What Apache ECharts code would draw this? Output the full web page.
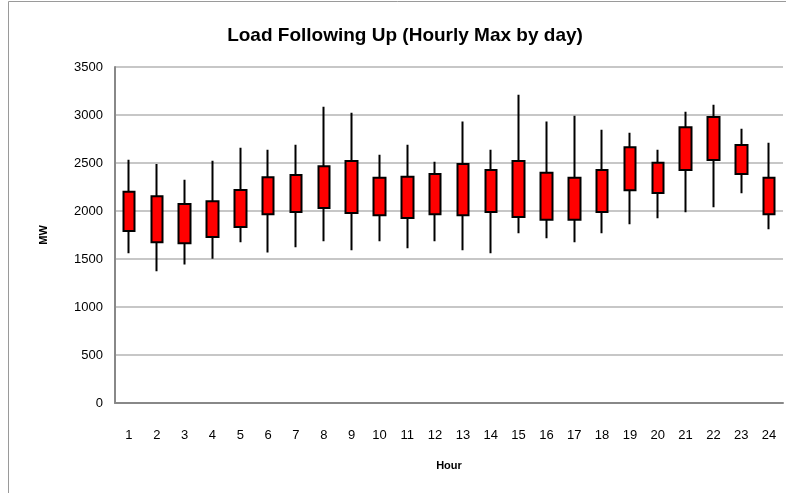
<!DOCTYPE html>
<html>
<head>
<meta charset="utf-8">
<script src="https://cdn.jsdelivr.net/npm/echarts@6/dist/echarts.min.js"></script>
<style>
  html, body { margin: 0; padding: 0; background: #fff; }
  #main { width: 786px; height: 493px; }
</style>
</head>
<body>
<div id="main"></div>
<script>
// hourly max by day (MW)
var hours = ['1','2','3','4','5','6','7','8','9','10','11','12','13','14','15','16','17','18','19','20','21','22','23','24'];
var boxLow  = [1792, 1674, 1663, 1729, 1833, 1965, 1990, 2031, 1979, 1955, 1927, 1965, 1955, 1990, 1938, 1910, 1910, 1990, 2215, 2188, 2427, 2531, 2385, 1965];
var boxHigh = [2201, 2153, 2073, 2101, 2219, 2351, 2375, 2465, 2521, 2347, 2358, 2385, 2490, 2427, 2521, 2399, 2347, 2427, 2663, 2503, 2872, 2979, 2688, 2347];
var minVal  = [1559, 1372, 1444, 1503, 1674, 1569, 1622, 1684, 1590, 1684, 1611, 1684, 1590, 1559, 1767, 1715, 1674, 1767, 1861, 1924, 1986, 2038, 2184, 1809];
var maxVal  = [2535, 2490, 2326, 2524, 2660, 2639, 2691, 3087, 3024, 2587, 2691, 2514, 2931, 2639, 3212, 2931, 2993, 2847, 2816, 2639, 3035, 3108, 2858, 2712];

var candles = hours.map(function(h, i) {
    // [open, close, lowest, highest]
    return [boxLow[i], boxHigh[i], minVal[i], maxVal[i]];
});

var chart = echarts.init(document.getElementById('main'), null, {renderer: 'canvas'});
var font = '"Liberation Sans", Arial, sans-serif';

var option = {
    backgroundColor: '#fff',
    animation: false,
    title: {
        text: 'Load Following Up (Hourly Max by day)',
        left: 400,
        textAlign: 'center',
        top: 21,
        textStyle: { fontFamily: font, fontSize: 19, fontWeight: 'bold', color: '#000' }
    },
    graphic: [{
        type: 'rect',
        shape: { x: 8.5, y: 1.5, width: 800, height: 520 },
        style: { fill: 'none', stroke: '#9a9a9a', lineWidth: 1 },
        silent: true
    }],
    grid: { left: 115, right: 3, top: 67, bottom: 90 },
    xAxis: {
        type: 'category',
        data: hours,
        name: 'Hour',
        nameLocation: 'middle',
        nameGap: 57,
        nameTextStyle: { fontFamily: font, fontSize: 11, fontWeight: 'bold', color: '#000' },
        axisLine: { lineStyle: { color: '#888', width: 2 } },
        axisTick: { show: false },
        axisLabel: { fontFamily: font, fontSize: 13, color: '#000', margin: 26 }
    },
    yAxis: {
        type: 'value',
        min: 0,
        max: 3500,
        interval: 500,
        name: 'MW',
        nameLocation: 'middle',
        nameGap: 66,
        nameRotate: 90,
        nameTextStyle: { fontFamily: font, fontSize: 11, fontWeight: 'bold', color: '#000' },
        axisLine: { show: true, lineStyle: { color: '#888', width: 2 } },
        axisTick: { show: false },
        axisLabel: {
            fontFamily: font, fontSize: 13, color: '#000', margin: 12,
            formatter: function(v) { return String(v); }
        },
        splitLine: { lineStyle: { color: '#b4b4b4', width: 1.5 } }
    },
    series: [{
        type: 'candlestick',
        data: candles,
        barWidth: 12,
        itemStyle: {
            color: '#ff0000',
            color0: '#ff0000',
            borderColor: '#000',
            borderColor0: '#000',
            borderWidth: 2
        }
    }]
};

chart.setOption(option);
</script>
</body>
</html>
